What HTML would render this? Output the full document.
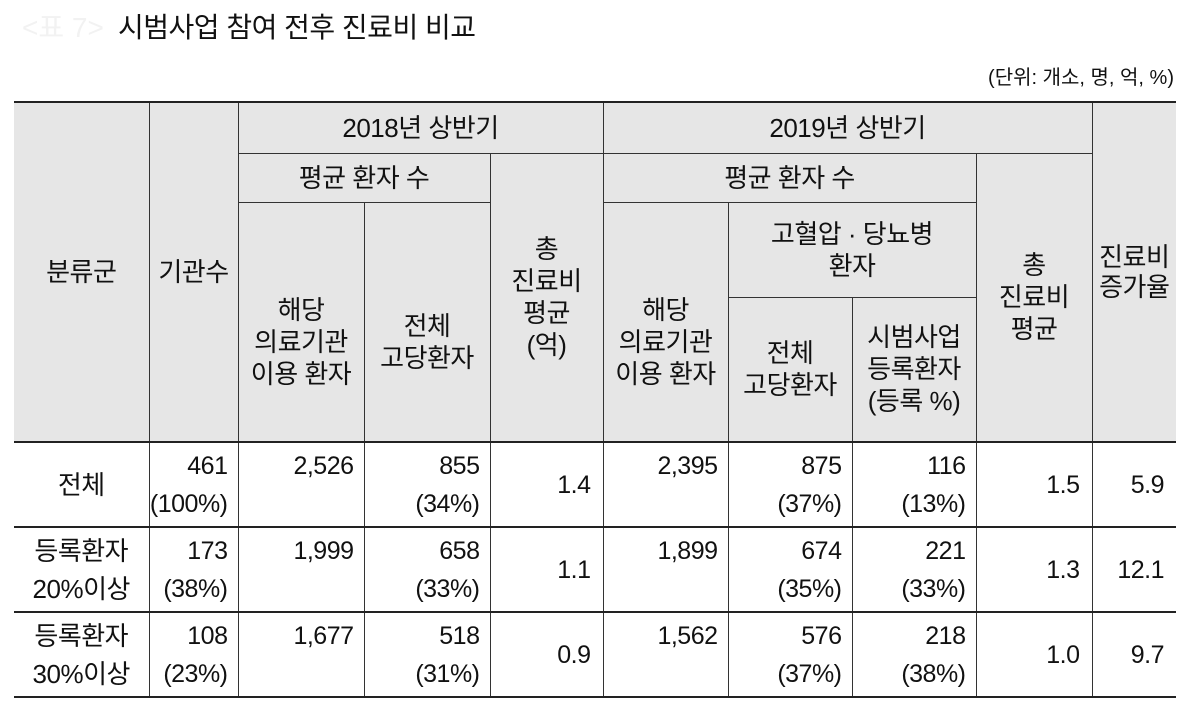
<!DOCTYPE html>
<html><head><meta charset="utf-8"><style>
body{margin:0;width:1194px;height:723px;background:#fff;font-family:"Liberation Sans","Noto Sans CJK KR","NanumGothic",sans-serif;color:#111;position:relative;overflow:hidden}
.title{position:absolute;left:118px;top:6px;font-size:28px;letter-spacing:-0.5px}
.pre{position:absolute;left:22px;top:6px;font-size:28px;color:#f2f2f2}
.unit{position:absolute;right:20px;top:61px;font-size:20px}
table{position:absolute;left:14px;top:101px;border-collapse:collapse;table-layout:fixed}
td{border:1px solid #333;padding:0;font-size:26px;text-align:center;line-height:32px;overflow:hidden;letter-spacing:-0.5px}
tr.h td{background:#e6e6e6}
table{border-top:2.5px solid #222;border-bottom:2.5px solid #222}
td.l{border-left:none}td.r{border-right:none}
td.n{text-align:right;vertical-align:top;padding:4px 10px 0 0;line-height:38px;font-size:25px}
td.m{text-align:right;padding-right:12px;font-size:25px}
tr.d td{border-top:2px solid #222}
</style></head><body>
<div class="pre">&lt;표 7&gt;</div>
<div class="title">시범사업 참여 전후 진료비 비교</div>
<div class="unit">(단위: 개소, 명, 억, %)</div>
<table>
<colgroup><col style="width:135px"><col style="width:89px"><col style="width:126px"><col style="width:126px"><col style="width:113px"><col style="width:125px"><col style="width:124px"><col style="width:124px"><col style="width:116px"><col style="width:84px"></colgroup>
<tr class="h" style="height:51px"><td class="l" rowspan="4">분류군</td><td rowspan="4">기관수</td><td colspan="3">2018년 상반기</td><td colspan="4">2019년 상반기</td><td class="r" rowspan="4" style="line-height:30px">진료비<br>증가율</td></tr>
<tr class="h" style="height:49px"><td colspan="2">평균 환자 수</td><td rowspan="3">총<br>진료비<br>평균<br>(억)</td><td colspan="3">평균 환자 수</td><td rowspan="3">총<br>진료비<br>평균</td></tr>
<tr class="h" style="height:95px"><td rowspan="2" style="padding-top:40px">해당<br>의료기관<br>이용 환자</td><td rowspan="2" style="padding-top:40px">전체<br>고당환자</td><td rowspan="2" style="padding-top:40px">해당<br>의료기관<br>이용 환자</td><td colspan="2">고혈압 · 당뇨병<br>환자</td></tr>
<tr class="h" style="height:145px"><td>전체<br>고당환자</td><td>시범사업<br>등록환자<br>(등록 %)</td></tr>
<tr class="d" style="height:85px"><td class="l">전체</td><td class="n">461<br>(100%)</td><td class="n">2,526</td><td class="n">855<br>(34%)</td><td class="m">1.4</td><td class="n">2,395</td><td class="n">875<br>(37%)</td><td class="n">116<br>(13%)</td><td class="m">1.5</td><td class="m r">5.9</td></tr>
<tr class="d" style="height:85px"><td class="l" style="line-height:38px">등록환자<br>20%이상</td><td class="n">173<br>(38%)</td><td class="n">1,999</td><td class="n">658<br>(33%)</td><td class="m">1.1</td><td class="n">1,899</td><td class="n">674<br>(35%)</td><td class="n">221<br>(33%)</td><td class="m">1.3</td><td class="m r">12.1</td></tr>
<tr class="d" style="height:85px"><td class="l" style="line-height:38px">등록환자<br>30%이상</td><td class="n">108<br>(23%)</td><td class="n">1,677</td><td class="n">518<br>(31%)</td><td class="m">0.9</td><td class="n">1,562</td><td class="n">576<br>(37%)</td><td class="n">218<br>(38%)</td><td class="m">1.0</td><td class="m r">9.7</td></tr>
</table>
</body></html>
